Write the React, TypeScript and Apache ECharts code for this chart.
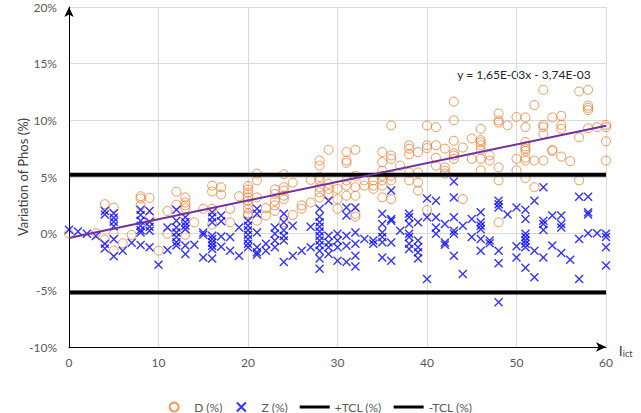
import React, { useEffect, useRef } from "react";
import * as echarts from "echarts";

// Variation of Phos (%) versus I_ict for the D and Z measurements
const dPoints: [number, number][] = [
  [0, 0], [3, 0.05], [4, 2.6], [4, -0.5], [5, 2.3], [5, 0.0], [5, -1.5], [6, -0.85], [7, -0.1],
  [8, 3.3], [8, 3.1], [8, 2.5], [9, 3.15], [9, 1.4], [10, -1.5], [11, 2.0], [11, 0.0],
  [12, 3.7], [12, 2.55], [13, 3.2], [13, 2.75], [13, 2.5], [13, 2.25], [13, -0.1], [14, 1.0],
  [15, 2.2], [16, 4.24], [16, 3.73], [16, 2.2], [16, 0.8], [17, 4.1], [17, 3.45], [18, 2.2],
  [18, 1.0], [19, 3.3], [20, 4.2], [20, 3.9], [20, 3.6], [20, 3.2], [20, 2.9], [20, 2.6],
  [20, 2.2], [20, 1.8], [20, 1.6], [21, 5.3], [21, 4.7], [21, 3.2], [21, 1.15], [22, 2.25],
  [22, 1.6], [23, 3.9], [23, 3.5], [23, 2.9], [23, 2.5], [23, 2.0], [24, 5.25], [24, 4.1],
  [24, 3.8], [24, 3.35], [24, 3.05], [24, 1.0], [25, 4.5], [25, 1.65], [26, 2.5], [26, 2.2],
  [27, 4.75], [27, 2.75], [28, 6.45], [28, 6.0], [28, 5.0], [28, 4.7], [28, 4.1], [28, 3.65],
  [28, 3.2], [29, 7.4], [29, 4.4], [29, 3.95], [29, 3.5], [30, 3.95], [30, 3.05], [30, 2.2],
  [31, 7.2], [31, 6.45], [31, 6.25], [31, 4.7], [31, 4.24], [31, 3.35], [32, 7.4], [32, 5.1],
  [32, 4.1], [32, 3.35], [32, 1.75], [32, 1.5], [33, 4.7], [33, 4.24], [34, 4.7], [34, 4.24],
  [34, 3.95], [35, 7.2], [35, 6.3], [35, 5.55], [35, 5.1], [35, 4.7], [35, 4.24], [35, 3.2],
  [36, 9.55], [36, 6.9], [36, 6.6], [36, 5.1], [36, 4.7], [36, 3.05], [37, 6.0], [38, 7.8],
  [38, 7.5], [38, 7.0], [38, 5.4], [38, 4.7], [39, 7.2], [39, 5.4], [39, 4.5], [39, 3.8],
  [40, 9.55], [40, 7.8], [40, 7.55], [40, 2.1], [41, 9.4], [41, 7.8], [41, 6.7], [41, 6.0],
  [42, 7.5], [42, 5.85], [42, 5.55], [42, 5.3], [43, 11.65], [43, 10.0], [43, 8.2], [43, 7.1],
  [43, 6.9], [43, 6.6], [44, 7.6], [44, 3.05], [45, 8.4], [45, 6.6], [46, 9.25], [46, 8.25],
  [46, 8.05], [46, 7.8], [46, 7.4], [46, 6.6], [46, 5.6], [47, 6.9], [47, 6.45], [48, 10.6],
  [48, 10.0], [48, 9.8], [48, 5.85], [48, 4.7], [48, 1.0], [49, 9.55], [50, 10.3], [50, 6.6],
  [50, 5.6], [51, 10.25], [51, 9.4], [51, 8.1], [51, 7.7], [51, 7.5], [51, 7.3], [51, 6.7],
  [51, 6.45], [51, 4.9], [52, 11.35], [52, 6.45], [52, 4.1], [53, 12.7], [53, 9.6], [53, 9.4],
  [53, 8.8], [53, 6.45], [54, 10.25], [54, 7.4], [54, 7.3], [55, 10.4], [55, 9.6], [55, 9.25],
  [55, 6.8], [56, 6.4], [57, 12.55], [57, 8.5], [57, 4.7], [58, 12.7], [58, 11.3], [58, 11.1],
  [58, 10.9], [58, 9.3], [59, 9.4], [60, 9.6], [60, 9.4], [60, 8.15], [60, 6.45],
];

const zPoints: [number, number][] = [
  [0, 0.35], [1, 0.2], [2, 0.0], [3, -0.2], [4, 2.0], [4, 1.7], [4, -0.9], [4, -1.3],
  [5, 1.8], [5, 1.4], [5, 1.06], [5, 0.65], [5, -0.5], [5, -2.0], [6, -1.5], [7, -0.8],
  [8, 2.1], [8, 1.65], [8, 1.15], [8, 0.7], [8, 0.33], [8, 0.1], [8, -1.0], [9, 2.0],
  [9, 1.06], [9, 0.6], [9, 0.26], [9, -1.2], [10, -2.75], [11, 0.55], [11, -1.45], [12, 2.1],
  [12, 1.15], [12, 0.55], [12, 0.1], [12, -0.3], [12, -0.75], [12, -1.05], [13, 1.45],
  [13, 1.0], [13, 0.7], [13, 0.4], [13, -1.05], [13, -1.8], [14, -0.97], [15, 0.1],
  [15, -0.1], [15, -2.1], [16, 1.9], [16, 1.45], [16, 1.0], [16, -0.18], [16, -0.47],
  [16, -0.77], [16, -1.06], [16, -1.35], [16, -2.2], [17, 1.6], [17, 1.1], [17, -0.26],
  [17, -1.15], [18, -0.3], [18, -1.5], [19, 0.55], [19, -1.95], [20, 1.15], [20, 0.7],
  [20, 0.3], [20, -0.1], [20, -0.5], [20, -0.9], [20, -1.2], [21, 2.2], [21, 1.75], [21, 0.1],
  [21, -1.2], [21, -1.65], [21, -1.85], [22, -0.9], [22, -1.5], [23, 0.55], [23, 0.0],
  [23, -0.6], [23, -1.2], [24, 1.75], [24, 1.0], [24, 0.3], [24, -0.2], [24, -0.6], [24, -2.5],
  [25, 0.7], [25, -1.95], [26, -1.5], [27, 0.6], [27, -1.2], [28, 2.2], [28, 1.5], [28, 1.0],
  [28, 0.6], [28, 0.2], [28, -0.2], [28, -0.6], [28, -1.0], [28, -1.5], [28, -2.2], [28, -3.1],
  [29, 2.9], [29, -0.18], [29, -0.77], [29, -1.2], [29, -1.8], [30, 0.0], [30, -0.6],
  [30, -1.2], [30, -2.4], [31, 2.3], [31, 1.6], [31, -0.18], [31, -1.06], [31, -2.5],
  [32, 2.3], [32, 0.1], [32, -0.9], [32, -1.95], [32, -2.9], [33, -0.47], [34, -0.6],
  [34, -0.9], [35, 1.75], [35, 0.85], [35, 0.1], [35, -0.3], [35, -0.75], [35, -2.1],
  [36, 3.8], [36, 1.3], [36, 1.15], [36, -0.77], [36, -2.4], [37, 0.26], [38, 1.75],
  [38, 1.45], [38, 0.85], [38, 0.0], [38, -0.3], [38, -0.9], [38, -1.35], [39, 1.0],
  [39, -0.6], [39, -1.2], [39, -1.65], [39, -2.2], [40, 3.1], [40, 1.45], [40, -4.0],
  [41, 2.9], [41, 1.45], [41, 0.55], [41, 0.0], [42, 0.85], [42, -0.77], [42, -0.97],
  [43, 4.6], [43, 3.2], [43, 1.45], [43, 0.26], [43, 0.0], [43, -1.95], [44, 0.7], [44, -3.55],
  [45, 1.3], [45, -0.3], [46, 1.9], [46, 1.0], [46, 0.7], [46, 0.4], [46, -0.47], [46, -1.5],
  [47, -0.6], [47, -0.85], [48, 2.9], [48, 2.6], [48, 2.3], [48, -1.5], [48, -2.6], [48, -6.05],
  [49, 1.7], [50, 2.3], [50, -1.1], [50, -2.1], [51, 2.1], [51, 1.3], [51, 0.0], [51, -0.3],
  [51, -0.6], [51, -0.9], [51, -1.2], [51, -3.0], [52, 2.9], [52, -1.5], [52, -3.85],
  [53, 4.1], [53, 1.15], [53, 0.85], [53, 0.33], [53, -2.1], [54, 1.6], [54, -1.05],
  [55, 1.6], [55, 0.85], [55, 0.55], [55, -1.7], [56, -2.3], [57, 3.25], [57, -0.47],
  [57, -4.0], [58, 3.25], [58, 1.9], [58, 1.7], [58, 0.03], [59, 0.03], [60, 0.0], [60, -0.3],
  [60, -1.2], [60, -2.8],
];

// Control limits (%) and the x-range they span
const tclLimit = 5.2;
const xRange = [0, 60];

// Linear trendline of D (fraction per unit of I_ict)
const trendSlope = 1.65e-3;
const trendIntercept = -3.74e-3;
const trendLabel = "y = 1,65E-03x - 3,74E-03";

const yTicks = { min: -10, max: 20, interval: 5 };
const xTicks = { min: 0, max: 60, interval: 10 };

const FONT = "Lato, 'Liberation Sans', sans-serif";
const crossPath = "path://M0,0L10,10M10,0L0,10";
const barIcon = "path://M0,0H30V3H0Z";

export default function App() {
  const ref = useRef<HTMLDivElement>(null);

  useEffect(() => {
    if (!ref.current) return;
    const chart = echarts.init(ref.current, undefined, { renderer: "svg" });

    const trendData = xRange.map((x) => [x, (trendSlope * x + trendIntercept) * 100]);
    const tclUp = xRange.map((x) => [x, tclLimit]);
    const tclDown = xRange.map((x) => [x, -tclLimit]);

    chart.setOption({
      animation: false,
      textStyle: { fontFamily: FONT },
      grid: { left: 69, right: 35, top: 7, bottom: 66 },
      xAxis: {
        type: "value",
        min: xTicks.min,
        max: xTicks.max,
        interval: xTicks.interval,
        name: "{a|I}{b|ict}",
        nameLocation: "end",
        nameGap: 6,
        nameTextStyle: {
          rich: {
            a: { fontSize: 14, color: "#404040", fontFamily: FONT, padding: [6, 0, 0, 0] },
            b: { fontSize: 9, color: "#404040", fontFamily: FONT, padding: [12, 0, 0, 0] },
          },
        },
        axisLine: {
          onZero: false,
          lineStyle: { color: "#000", width: 1 },
          symbol: ["none", "arrow"],
          symbolSize: [7, 10],
        },
        axisTick: { show: false },
        axisLabel: { color: "#595959", fontSize: 12, margin: 9, fontFamily: FONT },
        splitLine: { show: true, lineStyle: { color: "#d9d9d9", width: 1 } },
      },
      yAxis: {
        type: "value",
        min: yTicks.min,
        max: yTicks.max,
        interval: yTicks.interval,
        name: "Variation of Phos (%)",
        nameLocation: "middle",
        nameRotate: 90,
        nameGap: 40,
        nameMoveOverlap: false,
        nameTextStyle: { color: "#404040", fontSize: 13, fontFamily: FONT },
        axisLine: {
          show: true,
          onZero: false,
          lineStyle: { color: "#000", width: 1 },
          symbol: ["none", "arrow"],
          symbolSize: [7, 10],
        },
        axisTick: { show: false },
        axisLabel: { color: "#595959", fontSize: 12, margin: 12, formatter: "{value}%", fontFamily: FONT },
        splitLine: { show: true, lineStyle: { color: "#d9d9d9", width: 1 } },
      },
      legend: {
        top: 395,
        left: "center",
        itemWidth: 30,
        itemHeight: 9,
        itemGap: 12,
        textStyle: { color: "#595959", fontSize: 12, fontFamily: FONT },
        data: [
          { name: "D (%)" },
          { name: "Z (%)" },
          { name: "+TCL (%)", icon: barIcon, itemStyle: { color: "#000" } },
          { name: "-TCL (%)", icon: barIcon, itemStyle: { color: "#000" } },
        ],
      },
      series: [
        {
          name: "D (%)",
          type: "scatter",
          data: dPoints,
          symbol: "circle",
          symbolSize: 9,
          itemStyle: { color: "rgba(255,255,255,0)", borderColor: "#ED7D31", borderWidth: 1 },
          emphasis: { disabled: true },
        },
        {
          name: "Z (%)",
          type: "scatter",
          data: zPoints,
          symbol: crossPath,
          symbolSize: 8,
          itemStyle: { color: "none", borderColor: "#0000FF", borderWidth: 1.4 },
          emphasis: { disabled: true },
        },
        {
          name: "+TCL (%)",
          type: "line",
          data: tclUp,
          symbol: "none",
          lineStyle: { color: "#000", width: 4 },
          itemStyle: { color: "#000" },
          emphasis: { disabled: true },
        },
        {
          name: "-TCL (%)",
          type: "line",
          data: tclDown,
          symbol: "none",
          lineStyle: { color: "#000", width: 4 },
          itemStyle: { color: "#000" },
          emphasis: { disabled: true },
        },
        {
          name: "Trend D",
          type: "line",
          data: trendData,
          symbol: "none",
          lineStyle: { color: "#7030A0", width: 2 },
          emphasis: { disabled: true },
          z: 5,
        },
      ],
      graphic: [
        {
          type: "text",
          x: 524,
          y: 74,
          style: {
            text: trendLabel,
            align: "center",
            verticalAlign: "middle",
            fill: "#262626",
            fontSize: 12,
            fontFamily: FONT,
          },
        },
      ],
    });

    return () => chart.dispose();
  }, []);

  return (
    <div
      ref={ref}
      style={{ position: "fixed", left: 0, top: 0, width: 641, height: 413, background: "#fff" }}
    />
  );
}
